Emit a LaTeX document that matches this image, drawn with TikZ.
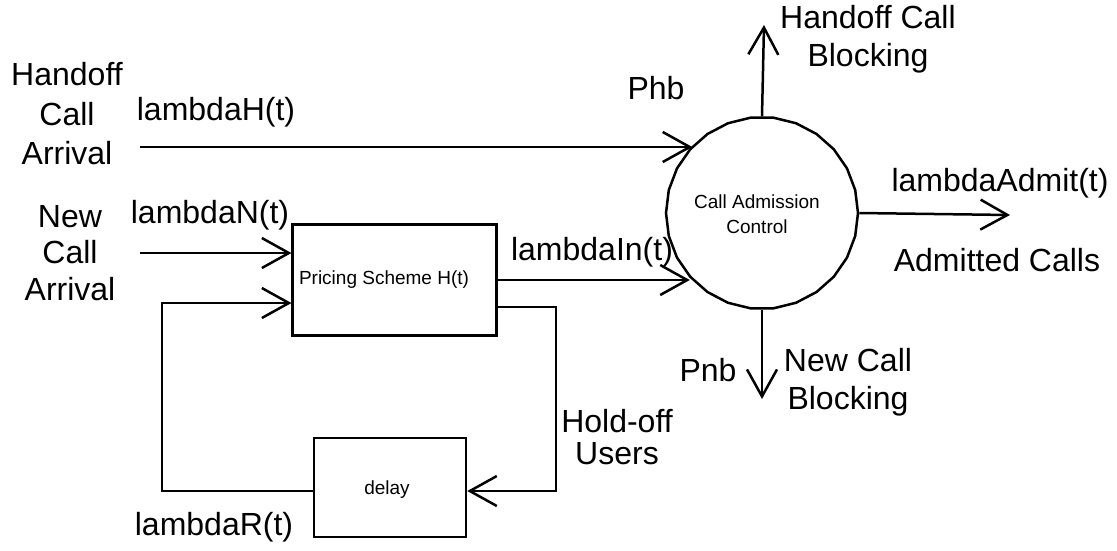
\documentclass[tikz,border=0pt]{standalone}
\usepackage{fontspec}
\setmainfont{Liberation Sans}
\usetikzlibrary{arrows.meta,shapes.geometric}
\begin{document}
\begin{tikzpicture}[x=1pt,y=-1pt,
  line width=2.5pt,
  arr/.style={-{Straight Barb[length=27pt,width=30pt,line width=2.5pt]}},
  big/.style={font=\fontsize{32}{38}\selectfont,inner sep=0pt,align=center},
  small/.style={font=\fontsize{19}{25}\selectfont,inner sep=0pt,align=center},
  boxnode/.style={draw,rectangle,inner sep=0pt}]
\useasboundingbox (0,0) rectangle (1117,550);
% nodes
\node[draw,regular polygon,regular polygon sides=26,minimum size=192pt,inner sep=0pt] (cac) at (762,213) {};
\node[small] (cact) at (757,214) {Call Admission\\Control};
\node[boxnode,minimum width=204pt,minimum height=111pt] (ps) at (394.7,280) {};
\node[small] (pst) at (384,280) {Pricing Scheme H(t)};
\node[boxnode,minimum width=152pt,minimum height=99pt] (dl) at (390,487.5) {};
\node[small] (dlt) at (387,490) {delay};
% labels
\node[big,font=\fontsize{32}{39.5}\selectfont] (hca) at (67,114) {Handoff\\Call\\Arrival};
\node[big,font=\fontsize{32}{36.5}\selectfont] (nca) at (70,253) {New\\Call\\Arrival};
\node[big] (lh) at (216,112) {lambdaH(t)};
\node[big] (ln) at (210,215) {lambdaN(t)};
\node[big] (phb) at (656,88) {Phb};
\node[big] (li) at (592,252) {lambdaIn(t)};
\node[big] (hcb) at (868,39) {Handoff Call\\Blocking};
\node[big] (la) at (1000,183) {lambdaAdmit(t)};
\node[big] (ac) at (997,260) {Admitted Calls};
\node[big] (pnb) at (708,370) {Pnb};
\node[big] (ncb) at (848,382) {New Call\\Blocking};
\node[big,font=\fontsize{32}{32}\selectfont] (hu) at (617,437) {Hold-off\\Users};
\node[big] (lr) at (214,527) {lambdaR(t)};
% coordinates
\coordinate (hin) at (140,147);
\coordinate (nin) at (140,253);
\coordinate (rc) at (162,491);
\coordinate (hc) at (556,307);
\coordinate (outa) at (1010,215);
\coordinate (outt) at (764,25);
\coordinate (outb) at (762,399);
% connectors
\draw[arr] (hin) -- (hin -| cac.136);
\draw[arr] (nin) -- (nin -| ps.west);
\draw[arr] (ps.east) -- (ps.east -| cac.222);
\draw[arr] (dl.west |- rc) -- (rc) -- (rc |- 0,303) -- (ps.west |- 0,303);
\draw[arr] (ps.east |- hc) -- (hc) -- (hc |- 0,491) -- (dl.east |- 0,491);
\draw[arr] (cac.east) -- (outa);
\draw[arr] (cac.north) -- (outt);
\draw[arr] (cac.south) -- (outb);
\end{tikzpicture}
\end{document}
